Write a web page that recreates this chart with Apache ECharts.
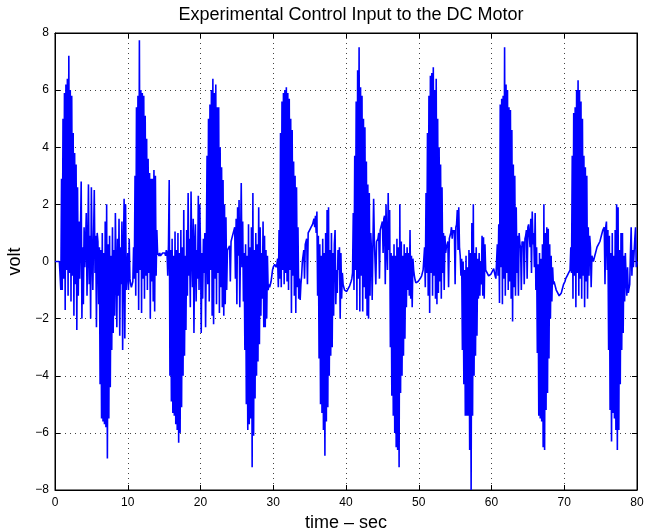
<!DOCTYPE html>
<html>
<head>
<meta charset="utf-8">
<script src="https://cdn.jsdelivr.net/npm/echarts@6/dist/echarts.min.js"></script>
<style>
html,body{margin:0;padding:0;background:#fff;}
#chart{width:655px;height:532px;}
</style>
</head>
<body>
<div id="chart"></div>
<script>
// Sampled control input (volt), one array per 10-second cycle, sample step dt
const dt = 0.1;
const xTicks = [0, 10, 20, 30, 40, 50, 60, 70, 80];
const yTicks = [-8, -6, -4, -2, 0, 2, 4, 6, 8];

const cycle1 = [
  0,0,0,0,0,0,0,0,-1.0,2.9,
  -1.0,5.0,-0.6,5.9,-1.7,6.2,-0.3,6.4,-1.2,7.2,
  -0.4,6.0,-1.4,5.8,-0.5,4.5,-1.9,3.8,-0.8,3.4,
  -2.4,2.6,-1.2,1.4,-0.6,1.0,2.8,-2.0,0.5,-1.5,
  1.2,-0.2,0.6,1.7,-1.2,0.4,2.7,-0.8,0.9,-2.0,
  2.6,0.3,-1.0,0.8,2.5,-0.4,0.9,-2.3,1.0,0.7,
  -1.5,0.5,-4.3,0.4,-5.5,1.0,-5.6,0.3,-5.7,1.4,
  -5.8,2.0,-6.9,0.6,-5.5,0.9,-4.4,0.2,-3.1,1.2,
  -2.5,0.4,-1.9,1.7,-0.3,-2.3,0.8,-1.2,1.5,-2.6,
  0.5,-0.8,1.4,-3.1,0.3,2.2,-2.7,2.0,-1.0,-0.5
];
const cycle2 = [
  0.3,-1.0,0.8,-0.6,-0.8,-0.9,-0.9,-0.7,0.5,-0.6,
  3.0,-1.2,5.4,-0.4,5.8,-1.7,7.75,-0.3,6.0,-1.8,
  5.9,-0.6,5.8,-1.3,5.1,-0.5,4.3,-1.0,3.6,-0.4,
  3.1,-2.0,2.9,-0.7,2.9,-1.4,3.2,-1.75,3.0,-0.5,
  1.1,0.3,0.25,0.2,0.3,0.2,0.2,0.25,0.3,0.3,
  0.25,0.3,0.2,0.4,0.3,-0.5,0.6,2.85,-4.0,0.4,
  -4.9,0.8,-5.3,0.2,-5.4,1.05,-5.7,0.4,-5.9,1.0,
  -6.35,0.3,-6.0,1.1,-5.1,0.5,-4.0,1.8,-3.3,0.2,
  -2.4,1.1,-1.2,2.4,-0.5,0.8,-1.6,2.45,0.3,-0.9,
  1.5,-2.5,0.6,1.3,-1.4,0.4,-0.6,2.3,-1.0,2.0
];
const cycle3 = [
  0.5,-2.5,0.3,-1.3,0.8,-0.4,1.0,-2.3,0.4,3.7,
  -0.8,5.0,-1.4,5.5,-0.3,6.0,-1.9,6.4,-2.2,5.9,
  -0.6,6.2,-1.5,5.4,-0.4,5.4,-1.8,4.0,-0.9,3.3,
  -1.6,2.85,-1.9,2.0,-1.5,1.55,-1.0,0.4,0.35,0.4,
  0.55,-0.7,0.7,0.8,0.9,1.0,1.1,1.2,-0.6,1.5,
  -1.5,1.9,0.2,2.15,-1.6,0.5,2.75,-0.2,1.4,-1.4,
  0.3,-3.1,0.6,-5.0,0.2,-5.9,1.3,-5.7,0.5,-5.5,
  1.2,-7.2,2.4,-6.1,0.4,-4.8,1.0,-4.0,0.6,-3.5,
  1.9,-2.9,1.2,-1.9,0.3,-1.3,1.4,-2.3,0.9,-2.3,
  0.4,-2.0,0.2,-1.0,-0.8,-0.9,-0.9,-0.7,-0.5,-0.3
];
const cycle4 = [
  -0.2,-0.15,-0.1,-0.15,-0.2,-0.1,0.1,-0.9,1.1,-0.6,
  4.5,-0.9,5.6,-0.3,5.9,-0.8,6.0,-0.4,6.1,-0.7,
  5.9,-1.0,5.7,-0.3,5.0,-1.8,4.6,-0.5,3.5,-1.2,
  3.0,-1.8,2.6,-0.9,1.2,-1.3,-0.6,-1.35,-0.8,-0.5,
  0.0,0.2,0.4,-0.6,0.6,0.7,0.8,-0.8,1.0,1.05,
  1.1,1.15,1.2,1.25,1.3,1.35,1.5,1.2,1.6,1.0,
  1.75,-1.2,0.9,-3.4,0.6,-5.0,0.2,-5.3,0.8,-5.9,
  0.3,-6.8,1.0,-5.6,1.8,-5.1,1.9,-4.0,0.4,-3.3,
  1.0,-3.0,0.3,-1.9,0.6,1.1,-1.5,-0.3,-1.1,0.4,
  -0.3,0.5,-2.0,0.3,-1.3,-0.4,-0.8,-0.9,-1.0,-1.05
];
const cycle5 = [
  -1.05,-1.05,-1.0,-0.95,-0.9,-0.85,-0.8,-0.7,-0.6,-0.4,
  1.7,-1.0,3.7,-0.3,5.6,-1.7,6.7,-0.6,7.5,-1.75,
  6.1,-0.5,5.8,-1.75,5.0,-0.9,4.7,-1.3,3.5,-1.9,
  2.7,-2.0,2.4,-1.2,1.0,0.4,-1.35,0.6,2.2,0.7,
  0.65,-0.8,0.7,0.75,0.8,1.0,-0.6,1.1,1.2,1.3,
  1.4,0.3,1.5,1.6,-0.8,2.0,0.5,-0.3,2.4,0.4,
  1.8,-3.0,0.3,-4.7,0.2,-5.4,0.6,-6.0,0.2,-6.5,
  0.8,-6.6,0.5,-7.2,2.0,-4.6,0.7,-4.0,0.2,-3.3,
  0.6,-2.7,0.3,-1.6,0.5,-1.0,0.3,-1.2,1.1,-1.3,
  0.2,-1.6,0.1,-0.3,-0.5,-0.65,-0.75,-0.75,-0.75,-0.7
];
const cycle6 = [
  -0.7,-0.65,-0.6,-0.55,-0.5,-0.4,-0.3,-0.3,0.5,-0.9,
  2.4,-0.4,4.5,-1.2,5.8,-1.8,6.5,-0.4,6.6,-1.2,
  6.8,-0.5,6.0,-1.3,6.4,-1.5,5.0,-1.1,4.0,-0.7,
  3.4,-1.3,2.6,-0.4,1.0,-1.0,0.9,0.3,0.5,0.6,
  0.7,-0.9,0.8,0.9,1.0,1.2,0.8,1.1,1.0,1.1,
  -0.8,1.2,1.3,1.8,0.4,1.9,0.5,0.2,-0.5,0.1,
  -3.1,0.0,-4.3,-0.3,-5.4,0.2,-5.4,-0.2,-5.4,0.4,
  -6.6,0.3,-8.0,1.35,-5.4,2.0,-4.0,0.3,-3.3,0.5,
  -2.6,0.1,-1.3,0.3,-1.2,0.0,-0.8,0.9,-1.2,0.85,
  -1.3,0.6,-0.3,-0.3,-0.4,-0.45,-0.5,-0.5,-0.5,-0.45
];
const cycle7 = [
  -0.4,-0.35,-0.3,-0.25,-0.3,-0.5,-0.6,-0.55,0.6,-0.5,
  1.3,-1.45,5.5,-0.2,5.7,-1.5,5.8,-0.6,7.5,-1.2,
  6.2,-0.4,6.0,-1.0,5.4,-0.7,5.3,-1.3,4.6,-2.1,
  3.4,-0.9,3.0,-1.2,1.9,-0.4,0.9,-1.2,1.0,0.6,
  0.5,-1.0,0.7,0.6,0.7,-0.8,0.8,0.9,1.1,-0.6,
  1.2,1.3,1.35,0.5,1.5,-0.4,1.75,0.6,1.0,-0.2,
  1.7,-1.0,0.5,-3.2,-0.1,-5.4,0.3,-5.5,0.1,-5.6,
  0.6,-6.5,2.0,-6.6,1.0,-5.2,1.2,-4.6,1.15,-3.4,
  0.6,-2.0,0.2,-1.4,-0.2,-0.8,-0.7,-0.8,-0.9,-1.0,
  -1.05,-1.1,-1.15,-1.2,-1.2,-1.2,-1.1,-1.0,-0.9,-0.8
];
const cycle8 = [
  -0.75,-0.7,-0.6,-0.55,-0.5,-0.45,-0.4,-0.35,-0.3,0.5,
  -0.4,3.7,-1.3,5.2,-0.5,5.4,-1.6,6.0,-0.4,6.35,
  -1.2,6.0,-0.6,5.6,-1.3,5.0,-0.5,3.7,-1.6,3.3,
  -0.7,3.0,-1.3,1.2,-0.5,0.9,0.5,-0.9,0.2,0.1,
  0.0,0.1,0.2,0.3,0.4,0.5,0.55,0.6,0.65,0.7,
  0.8,0.9,1.0,1.1,1.1,1.2,-0.8,1.2,1.4,-0.3,
  1.1,-3.1,0.9,-5.2,0.3,-6.3,1.0,-5.3,0.2,-5.5,
  1.1,-5.9,2.0,-6.6,1.9,-5.9,0.4,-4.3,1.0,-3.1,
  1.0,-2.5,0.2,-1.4,0.3,-0.6,-1.2,-0.2,-1.1,-1.1,
  -0.8,0.3,1.2,-0.5,0.4,-0.2,0.3,0.8,1.2,-0.2
];
const lastValue = 0.0;

const cycles = [cycle1, cycle2, cycle3, cycle4, cycle5, cycle6, cycle7, cycle8];
const data = [];
cycles.forEach((c, i) => {
  c.forEach((v, k) => data.push([Math.round((i * 10 + k * dt) * 100) / 100, v]));
});
data.push([80, lastValue]);

const FONT = 'Liberation Sans, Arial, Helvetica, sans-serif';
const fmtNum = v => (v < 0 ? '\u2212' + Math.abs(v) : String(v));

const chart = echarts.init(document.getElementById('chart'), null, {renderer: 'canvas'});
const axisCommon = {
  type: 'value',
  axisLine: {show: true, onZero: false, lineStyle: {color: '#000', width: 1}},
  axisTick: {show: true, inside: true, length: 5, lineStyle: {color: '#000'}},
};
const gridLine = {show: true, lineStyle: {type: [1, 4], color: '#444', width: 1}};
chart.setOption({
  animation: false,
  backgroundColor: '#fff',
  title: {
    text: 'Experimental Control Input to the DC Motor',
    left: 346, top: 1, textAlign: 'center',
    textStyle: {fontFamily: FONT, fontSize: 18, fontWeight: 'normal', color: '#000'}
  },
  grid: {left: 55, top: 33, width: 582, height: 457, outerBoundsMode: 'none', containLabel: false,
         show: true, borderColor: '#000', borderWidth: 1, backgroundColor: '#fff'},
  xAxis: [
    Object.assign({}, axisCommon, {
      position: 'bottom', min: xTicks[0], max: xTicks[xTicks.length - 1], interval: 10,
      axisLabel: {color: '#000', fontFamily: FONT, fontSize: 12, margin: 7, formatter: fmtNum},
      splitLine: gridLine,
      name: 'time \u2013 sec', nameLocation: 'middle', nameGap: 21,
      nameTextStyle: {fontFamily: FONT, fontSize: 18, color: '#000'}
    }),
    Object.assign({}, axisCommon, {
      position: 'top', min: xTicks[0], max: xTicks[xTicks.length - 1], interval: 10,
      axisLabel: {show: false}, splitLine: {show: false}
    })
  ],
  yAxis: [
    Object.assign({}, axisCommon, {
      position: 'left', min: yTicks[0], max: yTicks[yTicks.length - 1], interval: 2,
      axisLabel: {color: '#000', fontFamily: FONT, fontSize: 12, margin: 6, formatter: fmtNum},
      splitLine: gridLine,
      name: 'volt', nameLocation: 'middle', nameGap: 25,
      nameTextStyle: {fontFamily: FONT, fontSize: 18, color: '#000'}
    }),
    Object.assign({}, axisCommon, {
      position: 'right', min: yTicks[0], max: yTicks[yTicks.length - 1], interval: 2,
      axisLabel: {show: false}, splitLine: {show: false}
    })
  ],
  series: [{
    type: 'line',
    xAxisIndex: 0, yAxisIndex: 0,
    data: data,
    showSymbol: false, symbol: 'none',
    sampling: null,
    clip: true,
    lineStyle: {color: '#0000ff', width: 1.6},
    z: 3
  }]
});
</script>
</body>
</html>
